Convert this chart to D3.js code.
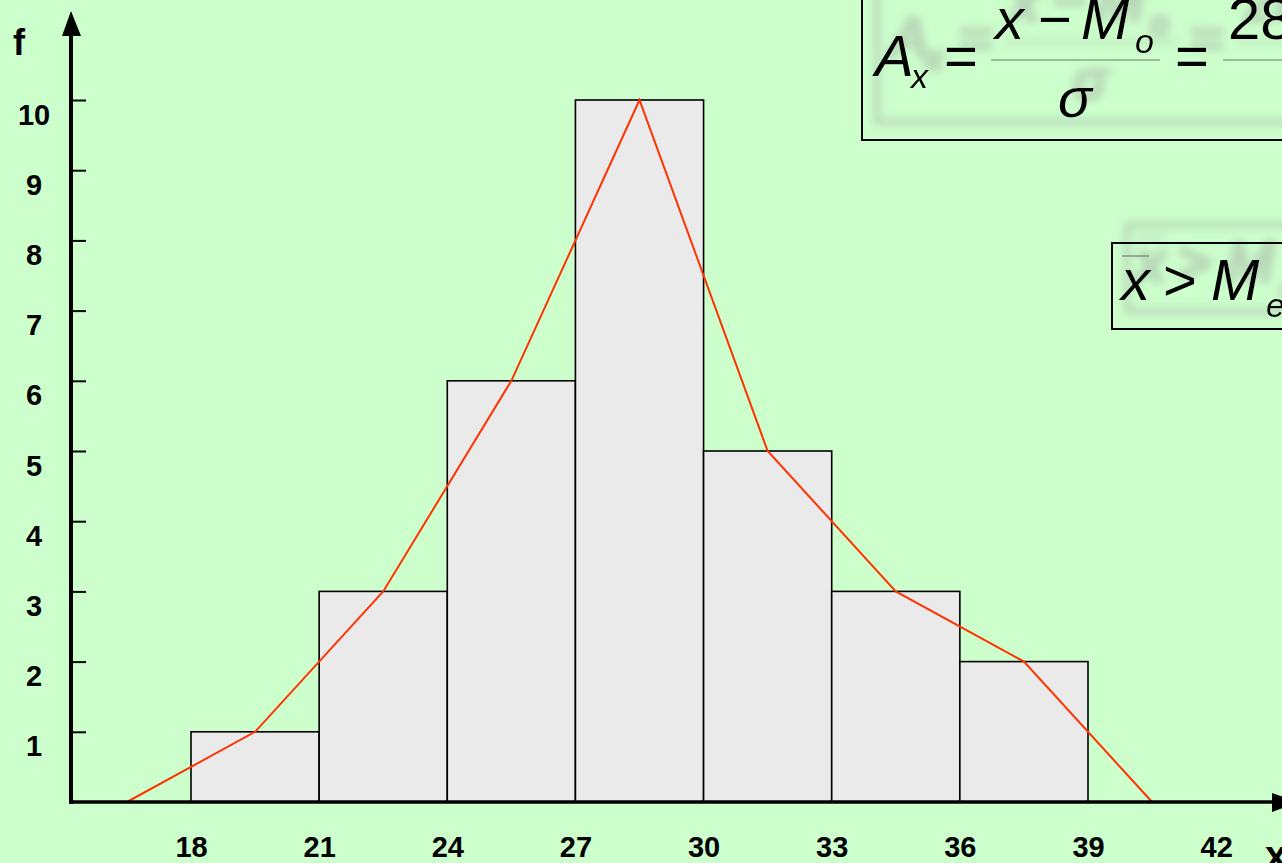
<!DOCTYPE html>
<html>
<head>
<meta charset="utf-8">
<script src="https://cdn.jsdelivr.net/npm/d3@7"></script>
<style>
body { margin: 0; background: #CCFFCC; }
svg { display: block; }
</style>
</head>
<body>
<svg id="chart" width="1282" height="863"></svg>
<script>
// histogram data
var binEdges = [18, 21, 24, 27, 30, 33, 36, 39],
    freq = [1, 3, 6, 10, 5, 3, 2],
    xTicks = [18, 21, 24, 27, 30, 33, 36, 39, 42],
    yTicks = [1, 2, 3, 4, 5, 6, 7, 8, 9, 10];

var svg = d3.select("#chart"),
    W = 1282, H = 863,
    font = "'Liberation Sans', Arial, sans-serif";

svg.append("rect").attr("width", W).attr("height", H).attr("fill", "#CCFFCC");

var x = d3.scaleLinear().domain([18, 39]).range([191, 1088]),
    y = d3.scaleLinear().domain([0, 10]).range([802, 100]),
    x0 = 71, y0 = y(0);

// bars
var bins = freq.map(function (f, i) {
    return { a: binEdges[i], b: binEdges[i + 1], f: f };
});
svg.append("g").selectAll("rect").data(bins).enter().append("rect")
    .attr("x", function (d) { return x(d.a); })
    .attr("y", function (d) { return y(d.f); })
    .attr("width", function (d) { return x(d.b) - x(d.a); })
    .attr("height", function (d) { return y(0) - y(d.f); })
    .attr("fill", "#EAEAEA")
    .attr("stroke", "#000")
    .attr("stroke-width", 1.6);

// frequency polygon: midpoints, closed with zero half a bin outside
var half = (binEdges[1] - binEdges[0]) / 2;
var poly = [{ v: binEdges[0] - half, f: 0 }]
    .concat(bins.map(function (d) { return { v: (d.a + d.b) / 2, f: d.f }; }))
    .concat([{ v: binEdges[binEdges.length - 1] + half, f: 0 }]);
svg.append("path")
    .datum(poly)
    .attr("fill", "none")
    .attr("stroke", "#FF3300")
    .attr("stroke-width", 2)
    .attr("d", d3.line().x(function (d) { return x(d.v); }).y(function (d) { return y(d.f); }));

// y axis ticks (inside) and labels
var yAxis = svg.append("g")
    .attr("transform", "translate(" + x0 + ",0)")
    .call(d3.axisLeft(y).tickValues(yTicks).tickSizeInner(-15).tickSizeOuter(0).tickPadding(0));
yAxis.select(".domain").remove();
yAxis.selectAll(".tick line").attr("stroke", "#000").attr("stroke-width", 2);
yAxis.selectAll(".tick text")
    .attr("x", -37).attr("dy", 24)
    .attr("text-anchor", "middle")
    .attr("fill", "#000")
    .style("font", "bold 29px " + font);

// x axis labels
var xScaleFull = x.copy().domain([18, 42]).range([x(18), x(42)]);
var xAxis = svg.append("g")
    .attr("transform", "translate(0," + y0 + ")")
    .call(d3.axisBottom(xScaleFull).tickValues(xTicks).tickSize(0));
xAxis.select(".domain").remove();
xAxis.selectAll(".tick text")
    .attr("y", 55).attr("dy", 0)
    .attr("fill", "#000")
    .style("font", "bold 29px " + font);

// axis lines with arrows
svg.append("line").attr("x1", x0).attr("y1", y0 + 2).attr("x2", x0).attr("y2", 34)
    .attr("stroke", "#000").attr("stroke-width", 4);
svg.append("path").attr("d", "M" + (x0 - 9) + ",36L" + x0 + ",11L" + (x0 + 10) + ",36Z").attr("fill", "#000");
svg.append("line").attr("x1", x0 - 2).attr("y1", y0).attr("x2", 1274).attr("y2", y0)
    .attr("stroke", "#000").attr("stroke-width", 3.5);
svg.append("path").attr("d", "M1272," + (y0 - 9) + "L1298," + y0 + "L1272," + (y0 + 10) + "Z").attr("fill", "#000");

svg.append("text").attr("x", 19).attr("y", 55).attr("text-anchor", "middle")
    .style("font", "bold 36px " + font).text("f");
svg.append("text").attr("x", 1265).attr("y", 869)
    .style("font", "bold 40px " + font).text("x");

// formula boxes, blurred drop shadow done in the filter
var defs = svg.append("defs");
var sh = defs.append("filter").attr("id", "shadow")
    .attr("x", "-20%").attr("y", "-60%").attr("width", "140%").attr("height", "220%");
sh.append("feMorphology").attr("in", "SourceAlpha").attr("operator", "dilate").attr("radius", 1.5).attr("result", "d");
sh.append("feGaussianBlur").attr("in", "d").attr("stdDeviation", 4).attr("result", "b");
sh.append("feOffset").attr("in", "b").attr("dx", 15).attr("dy", -18).attr("result", "o");
sh.append("feColorMatrix").attr("in", "o").attr("type", "matrix")
    .attr("values", "0 0 0 0 0.35  0 0 0 0 0.38  0 0 0 0 0.35  0 0 0 0.45 0").attr("result", "s");
var merge = sh.append("feMerge");
merge.append("feMergeNode").attr("in", "s");
merge.append("feMergeNode").attr("in", "SourceGraphic");

function txt(g, px, py, size, s, italic, anchor) {
    g.append("text").attr("x", px).attr("y", py)
        .attr("text-anchor", anchor || "start")
        .attr("fill", "#000")
        .style("font-family", font)
        .style("font-size", size + "px")
        .style("font-style", italic ? "italic" : "normal")
        .text(s);
}

var f1 = svg.append("g").attr("filter", "url(#shadow)");
f1.append("rect").attr("x", 862).attr("y", -10).attr("width", 500).attr("height", 150)
    .attr("fill", "none").attr("stroke", "#000").attr("stroke-width", 2);
txt(f1, 875, 76, 58, "A", true);
txt(f1, 911, 88, 34, "x", true);
txt(f1, 961, 76, 58, "=", false, "middle");
txt(f1, 995, 39, 58, "x", true);
txt(f1, 1055, 39, 58, "\u2212", false, "middle");
txt(f1, 1081, 39, 58, "M", true);
txt(f1, 1135, 53, 34, "o", true);
f1.append("line").attr("x1", 991).attr("x2", 1160).attr("y1", 60).attr("y2", 60)
    .attr("stroke", "#777").attr("stroke-width", 1.2);
txt(f1, 1058, 117, 56, "\u03C3", true);
txt(f1, 1192, 76, 58, "=", false, "middle");
txt(f1, 1228, 39, 58, "28", false);
f1.append("line").attr("x1", 1223).attr("x2", 1290).attr("y1", 60).attr("y2", 60)
    .attr("stroke", "#777").attr("stroke-width", 1.2);

var f2 = svg.append("g").attr("filter", "url(#shadow)");
f2.append("rect").attr("x", 1112).attr("y", 243).attr("width", 300).attr("height", 86)
    .attr("fill", "none").attr("stroke", "#000").attr("stroke-width", 2);
f2.append("line").attr("x1", 1122).attr("x2", 1149).attr("y1", 256).attr("y2", 256)
    .attr("stroke", "#777").attr("stroke-width", 1.2);
txt(f2, 1121, 300, 58, "x", true);
txt(f2, 1180, 300, 58, ">", false, "middle");
txt(f2, 1211, 300, 58, "M", true);
txt(f2, 1266, 317, 34, "e", true);
</script>
</body>
</html>
